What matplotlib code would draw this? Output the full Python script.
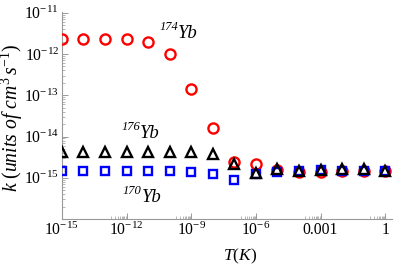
import numpy as np
import matplotlib
matplotlib.use("Agg")
import matplotlib.pyplot as plt
from matplotlib.ticker import FixedLocator, FixedFormatter

plt.rcParams['font.family'] = ['Liberation Serif', 'DejaVu Serif']
plt.rcParams['mathtext.fontset'] = 'custom'
plt.rcParams['mathtext.rm'] = 'Liberation Serif'
plt.rcParams['mathtext.it'] = 'Liberation Serif:italic'
plt.rcParams['mathtext.bf'] = 'Liberation Serif:bold'

# Data
T = [1e-15, 1e-14, 1e-13, 1e-12, 1e-11, 1e-10, 1e-9, 1e-8,
     1e-7, 1e-6, 1e-5, 1e-4, 1e-3, 1e-2, 1e-1, 1.0]
k174 = [2.3e-12, 2.3e-12, 2.3e-12, 2.3e-12, 2.0e-12, 9.8e-13, 1.45e-13, 1.6e-14,
        2.4e-15, 2.2e-15, 1.55e-15, 1.4e-15, 1.4e-15, 1.5e-15, 1.5e-15, 1.5e-15]
k176 = [4.3e-15, 4.3e-15, 4.3e-15, 4.3e-15, 4.3e-15, 4.3e-15, 4.3e-15, 3.8e-15,
        2.2e-15, 1.3e-15, 1.65e-15, 1.5e-15, 1.55e-15, 1.6e-15, 1.65e-15, 1.5e-15]
k170 = [1.45e-15, 1.45e-15, 1.45e-15, 1.45e-15, 1.45e-15, 1.45e-15, 1.4e-15, 1.25e-15,
        8.7e-16, 1.25e-15, 1.35e-15, 1.5e-15, 1.55e-15, 1.5e-15, 1.5e-15, 1.5e-15]

xticks = [1e-15, 1e-12, 1e-9, 1e-6, 1e-3, 1.0]
xticklabels = [r'$10^{-15}$', r'$10^{-12}$', r'$10^{-9}$', r'$10^{-6}$', '0.001', '1']
yticks = [1e-15, 1e-14, 1e-13, 1e-12, 1e-11]
yticklabels = [r'$10^{-15}$', r'$10^{-14}$', r'$10^{-13}$', r'$10^{-12}$', r'$10^{-11}$']

# isotope labels: (mass number, element, anchor x, anchor y)
iso_mass = ['174', '176', '170']
iso_elem = ['Yb', 'Yb', 'Yb']
iso_x = [2.4e-10, 4.2e-12, 5.1e-12]
iso_y = [2.45e-12, 9.3e-15, 2.6e-16]

fig = plt.figure(figsize=(4.15, 2.78), dpi=100)
ax = fig.add_axes([0.149, 0.212, 0.796, 0.745])
ax.set_xscale('log')
ax.set_yscale('log')

ax.plot(T, k174, linestyle='none', marker='o', markersize=7.3, markerfacecolor='none',
        markeredgecolor='#ff0000', markeredgewidth=1.7, zorder=3)
ax.plot(T, k170, linestyle='none', marker='s', markersize=6.0, markerfacecolor='none',
        markeredgecolor='#0000ff', markeredgewidth=1.7, zorder=4)
ax.plot(T, k176, linestyle='none', marker='^', markersize=7.0, markerfacecolor='none',
        markeredgecolor='black', markeredgewidth=1.7, zorder=5)

ax.set_xlim(1e-15, 2.1)
ax.set_ylim(1e-16, 1.05e-11)

for s in ['top', 'right']:
    ax.spines[s].set_visible(False)
for s in ['left', 'bottom']:
    ax.spines[s].set_color('#999999')
    ax.spines[s].set_linewidth(0.8)

ax.xaxis.set_major_locator(FixedLocator(xticks))
ax.xaxis.set_major_formatter(FixedFormatter(xticklabels))
xminor = []
for e in [-13, -10, -7, -4, -1]:
    xminor += [m * 10.0 ** e for m in range(2, 10)]
ax.xaxis.set_minor_locator(FixedLocator(xminor))
ax.xaxis.set_minor_formatter(FixedFormatter([]))

ax.yaxis.set_major_locator(FixedLocator(yticks))
ax.yaxis.set_major_formatter(FixedFormatter(yticklabels))
yminor = []
for e in range(-16, -11):
    yminor += [m * 10.0 ** e for m in range(2, 10)]
ax.yaxis.set_minor_locator(FixedLocator(yminor))
ax.yaxis.set_minor_formatter(FixedFormatter([]))

ax.tick_params(which='major', direction='in', length=4, width=0.7, color='#999999',
               labelsize=11.3, labelcolor='black', pad=2)
ax.tick_params(which='minor', direction='in', length=2, width=0.5, color='#999999')

ax.set_xlabel(r'$T(K)$', fontsize=12.5)
ax.xaxis.set_label_coords(0.54, -0.135)
ax.set_ylabel(r'$k\ (units\ of\ cm^3\, s^{-1})$', fontsize=14.2)
ax.yaxis.set_label_coords(-0.112, 0.49)

for m, el, x, y in zip(iso_mass, iso_elem, iso_x, iso_y):
    ax.annotate(el, xy=(x, y), xycoords='data', ha='left', va='baseline',
                fontsize=13.5, style='italic')
    ax.annotate(m, xy=(x, y), xycoords='data', xytext=(0, 5.5), textcoords='offset points',
                ha='right', va='baseline', fontsize=9, style='italic')

fig.savefig('out.png', dpi=100)
